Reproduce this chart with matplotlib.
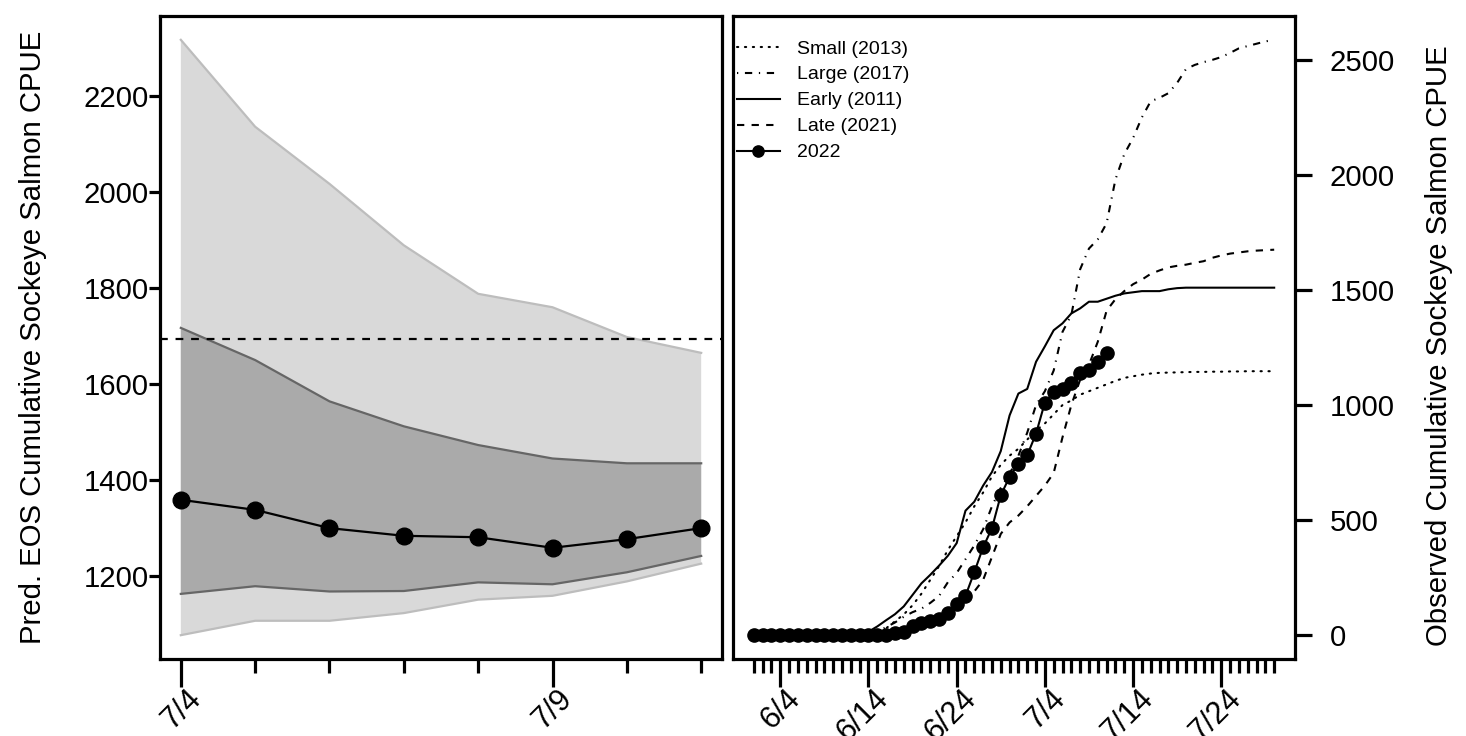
import matplotlib
matplotlib.use("Agg")
import matplotlib.pyplot as plt
import matplotlib.transforms as mtrans
import pandas as pd
import numpy as np

plt.rcParams['font.family'] = ['Liberation Sans', 'DejaVu Sans']

# ---------------- Left panel data ----------------
pred_dates = ["2022-07-04", "2022-07-05", "2022-07-06", "2022-07-07",
              "2022-07-08", "2022-07-09", "2022-07-10", "2022-07-11"]
pred_median = [1359, 1338, 1300, 1284, 1281, 1259, 1277, 1300]
pred_inner_lo = [1163, 1179, 1168, 1169, 1187, 1183, 1208, 1242]
pred_inner_hi = [1717, 1650, 1564, 1512, 1473, 1445, 1435, 1435]
pred_outer_lo = [1077, 1107, 1107, 1123, 1151, 1159, 1189, 1226]
pred_outer_hi = [2317, 2136, 2017, 1889, 1788, 1760, 1698, 1665]
pred_ref_line = 1693
left_tick_labels = ["7/4", "7/9"]
left_tick_dates = ["2022-07-04", "2022-07-09"]

# ---------------- Right panel data ----------------
obs_start, obs_end = "2022-06-01", "2022-07-30"
small_2013 = [0]*14 + [10, 30, 60, 90, 130, 180, 240, 300, 370, 430, 490, 560,
                       620, 690, 740, 780, 810, 850, 890, 920, 960, 1000, 1020,
                       1045, 1060, 1075, 1090, 1105, 1118, 1125, 1132, 1137,
                       1140, 1141, 1142, 1143, 1144, 1144, 1145, 1145, 1146,
                       1146, 1147, 1147, 1147, 1147]
large_2017 = [0]*14 + [15, 35, 55, 80, 100, 115, 140, 170, 230, 270, 330, 390,
                       460, 560, 640, 700, 780, 880, 1000, 1060, 1150, 1318,
                       1391, 1590, 1680, 1720, 1790, 1980, 2090, 2160, 2250,
                       2320, 2335, 2355, 2400, 2460, 2478, 2490, 2500, 2512,
                       2530, 2550, 2560, 2570, 2580, 2587]
early_2011 = [0]*13 + [15, 38, 65, 91, 125, 175, 225, 262, 302, 345, 400, 541,
                       580, 650, 709, 800, 955, 1050, 1070, 1188, 1255, 1325,
                       1355, 1398, 1420, 1449, 1449, 1462, 1475, 1485, 1490,
                       1495, 1495, 1495, 1503, 1508, 1510, 1510, 1510, 1510,
                       1510, 1510, 1510, 1510, 1510, 1510, 1510]
late_2021 = [0]*16 + [5, 15, 30, 45, 60, 80, 100, 125, 160, 190, 240, 340, 440,
                      490, 520, 560, 605, 650, 705, 860, 1000, 1110, 1175, 1275,
                      1410, 1460, 1495, 1525, 1545, 1570, 1585, 1598, 1605,
                      1610, 1618, 1625, 1640, 1650, 1658, 1663, 1668, 1671,
                      1673, 1675]
obs_2022 = [0]*15 + [2, 10, 15, 41, 55, 62, 70, 97, 135, 171, 274, 382, 465,
                     608, 688, 745, 782, 876, 1011, 1057, 1071, 1097, 1139,
                     1151, 1185, 1224]
right_tick_labels = ["6/4", "6/14", "6/24", "7/4", "7/14", "7/24"]
right_tick_dates = ["2022-06-04", "2022-06-14", "2022-06-24",
                    "2022-07-04", "2022-07-14", "2022-07-24"]
legend_labels = ["Small (2013)", "Large (2017)", "Early (2011)",
                 "Late (2021)", "2022"]

# ---------------- Figure ----------------
W, H = 1466, 736
fig = plt.figure(figsize=(W/100, H/100), dpi=100)
axL = fig.add_axes([160/W, 1-659/H, 562/W, 643/H])
axR = fig.add_axes([733/W, 1-659/H, 562/W, 643/H])

FS = 21.2
FSX = 22
LW_BOX = 2.3


def shift_xlabels(ax, dx_px, dy_px):
    off = mtrans.ScaledTranslation(dx_px/100, dy_px/100, fig.dpi_scale_trans)
    for lab in ax.get_xticklabels():
        lab.set_transform(lab.get_transform() + off)


px = pd.to_datetime(pred_dates)
axL.fill_between(px, pred_outer_lo, pred_outer_hi, color="#d9d9d9",
                 edgecolor="none", zorder=1)
axL.plot(px, pred_outer_lo, color="#bdbdbd", lw=1.6, zorder=2)
axL.plot(px, pred_outer_hi, color="#bdbdbd", lw=1.6, zorder=2)
axL.fill_between(px, pred_inner_lo, pred_inner_hi, color="#aaaaaa",
                 edgecolor="none", zorder=3)
axL.plot(px, pred_inner_lo, color="#666666", lw=1.6, zorder=4)
axL.plot(px, pred_inner_hi, color="#666666", lw=1.6, zorder=4)
axL.plot(px, pred_median, color="black", lw=1.6, marker="o", ms=12, zorder=6)
axL.axhline(pred_ref_line, color="black", lw=1.6, ls=(0, (3.5, 3.5)), zorder=5)

span = (px[-1] - px[0])
axL.set_xlim(px[0] - span*0.04, px[-1] + span*0.04)
lo = min(pred_outer_lo); hi = max(pred_outer_hi)
axL.set_ylim(lo - (hi-lo)*0.04, hi + (hi-lo)*0.04)
axL.set_yticks([1200, 1400, 1600, 1800, 2000, 2200])
axL.set_xticks(pd.to_datetime(left_tick_dates))
axL.set_xticklabels(left_tick_labels, rotation=45, ha="right", va="top",
                    rotation_mode="anchor")
axL.set_xticks(px, minor=True)
axL.tick_params(axis="x", which="major", length=20, width=LW_BOX, labelsize=FSX, pad=2)
axL.tick_params(axis="x", which="minor", length=10, width=LW_BOX)
axL.tick_params(axis="y", which="major", length=8, width=LW_BOX, labelsize=FS, pad=0)
axL.set_ylabel("Pred. EOS Cumulative Sockeye Salmon CPUE", fontsize=FS)
axL.yaxis.set_label_coords((47-160)/562, 0.5)
shift_xlabels(axL, 5, 6)
for s in axL.spines.values():
    s.set_linewidth(LW_BOX)

# ---------------- Right panel ----------------
rx = pd.date_range(obs_start, obs_end, freq="D")
LW = 1.5
axR.plot(rx, small_2013, color="black", lw=LW, ls=(0, (0.6, 3.2)),
         dash_capstyle="round", label=legend_labels[0])
axR.plot(rx, large_2017, color="black", lw=LW, ls=(0, (0.6, 3.2, 3.5, 3.2)),
         label=legend_labels[1])
axR.plot(rx, early_2011, color="black", lw=LW, ls="-", label=legend_labels[2])
axR.plot(rx, late_2021, color="black", lw=LW, ls=(0, (3.5, 3.5)),
         label=legend_labels[3])
axR.plot(rx[:len(obs_2022)], obs_2022, color="black", lw=LW, marker="o", ms=9.5,
         label=legend_labels[4])

rspan = rx[-1] - rx[0]
axR.set_xlim(rx[0] - rspan*0.04, rx[-1] + rspan*0.04)
allv = small_2013 + large_2017 + early_2011 + late_2021 + obs_2022
rlo, rhi = min(allv), max(allv)
axR.set_ylim(rlo - (rhi-rlo)*0.04, rhi + (rhi-rlo)*0.04)
axR.yaxis.tick_right()
axR.yaxis.set_label_position("right")
axR.set_yticks([0, 500, 1000, 1500, 2000, 2500])
axR.set_xticks(pd.to_datetime(right_tick_dates))
axR.set_xticklabels(right_tick_labels, rotation=45, ha="right", va="top",
                    rotation_mode="anchor")
axR.set_xticks(rx, minor=True)
axR.tick_params(axis="x", which="major", length=20, width=LW_BOX, labelsize=FSX, pad=2)
axR.tick_params(axis="x", which="minor", length=10, width=LW_BOX)
axR.tick_params(axis="y", which="major", length=12, width=LW_BOX, labelsize=FS, pad=13)
axR.set_ylabel("Observed Cumulative Sockeye Salmon CPUE", fontsize=FS)
axR.yaxis.set_label_coords((1425-733)/562, (659-346)/643)
shift_xlabels(axR, 5, 6)
for s in axR.spines.values():
    s.set_linewidth(LW_BOX)

axR.legend(loc="upper left", frameon=False, fontsize=14, handlelength=2.2,
           borderaxespad=0.0, borderpad=0.2, labelspacing=0.43,
           handletextpad=0.9, markerscale=0.85,
           bbox_to_anchor=(0.0, 1 - 20/643))

fig.savefig("out.png", dpi=100)
